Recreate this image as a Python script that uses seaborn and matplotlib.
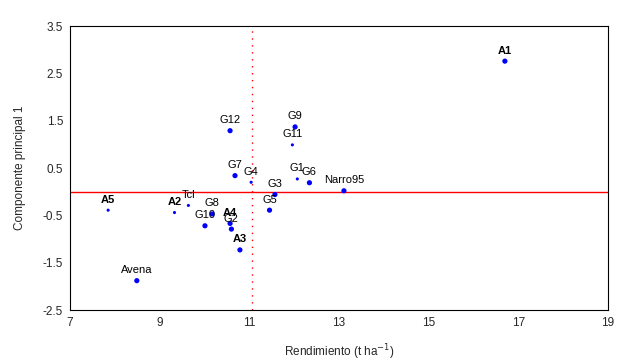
import matplotlib
matplotlib.use("Agg")
import pandas as pd
import seaborn as sns
import matplotlib.pyplot as plt

# Values
labels = ["A1", "A2", "A3", "A4", "A5", "Tcl", "Avena", "Narro95",
          "G1", "G2", "G3", "G4", "G5", "G6", "G7", "G8", "G9", "G10", "G11", "G12"]
rendimiento = [16.70, 9.33, 10.79, 10.57, 7.85, 9.64, 8.49, 13.11,
               12.07, 10.60, 11.57, 11.04, 11.45, 12.34, 10.68, 10.17, 12.02, 10.01, 11.96, 10.57]
cp1 = [2.76, -0.44, -1.23, -0.67, -0.39, -0.29, -1.88, 0.02,
       0.27, -0.79, -0.06, 0.20, -0.39, 0.19, 0.34, -0.47, 1.37, -0.72, 0.99, 1.29]
mean_yield = 11.06

df = pd.DataFrame({"label": labels, "x": rendimiento, "y": cp1})
small = {"A2", "A5", "Tcl", "G1", "G4", "G11"}
df["size"] = ["small" if l in small else "big" for l in df["label"]]

sns.set_style("white")
plt.rcParams["font.family"] = ["Liberation Sans", "DejaVu Sans"]

fig = plt.figure(figsize=(6.4, 3.63), dpi=100)
ax = fig.add_axes([0.1094, 0.146, 0.8406, 0.782])

sns.scatterplot(data=df, x="x", y="y", size="size", sizes={"big": 14, "small": 5},
                color="#0000ff", edgecolor="none", legend=False, ax=ax, zorder=3)

ax.axhline(0, color="red", lw=1)
ax.axvline(mean_yield, color="red", lw=1, ls=(0, (1, 4)))

for _, r in df.iterrows():
    bold = r["label"].startswith("A") and len(r["label"]) == 2
    ax.annotate(r["label"], (r["x"], r["y"]), xytext=(0, 4), textcoords="offset points",
                ha="center", va="bottom", fontsize=8,
                fontweight="bold" if bold else "normal", color="black")

ax.set_xlim(7, 19)
ax.set_ylim(-2.5, 3.5)
ax.set_xticks([7, 9, 11, 13, 15, 17, 19])
ax.set_yticks([-2.5, -1.5, -0.5, 0.5, 1.5, 2.5, 3.5])
ax.set_yticklabels(["-2.5", "-1.5", "-0.5", "0.5", "1.5", "2.5", "3.5"])
ax.tick_params(direction="in", length=2, labelsize=8.5, color="black", pad=5)
for s in ax.spines.values():
    s.set_color("black")
    s.set_linewidth(0.8)

ax.set_xlabel("Rendimiento (t ha$^{-1}$)", fontsize=8.5, labelpad=10)
ax.set_ylabel("Componente principal 1", fontsize=8.5, labelpad=12)

fig.savefig("out.png", dpi=100)
